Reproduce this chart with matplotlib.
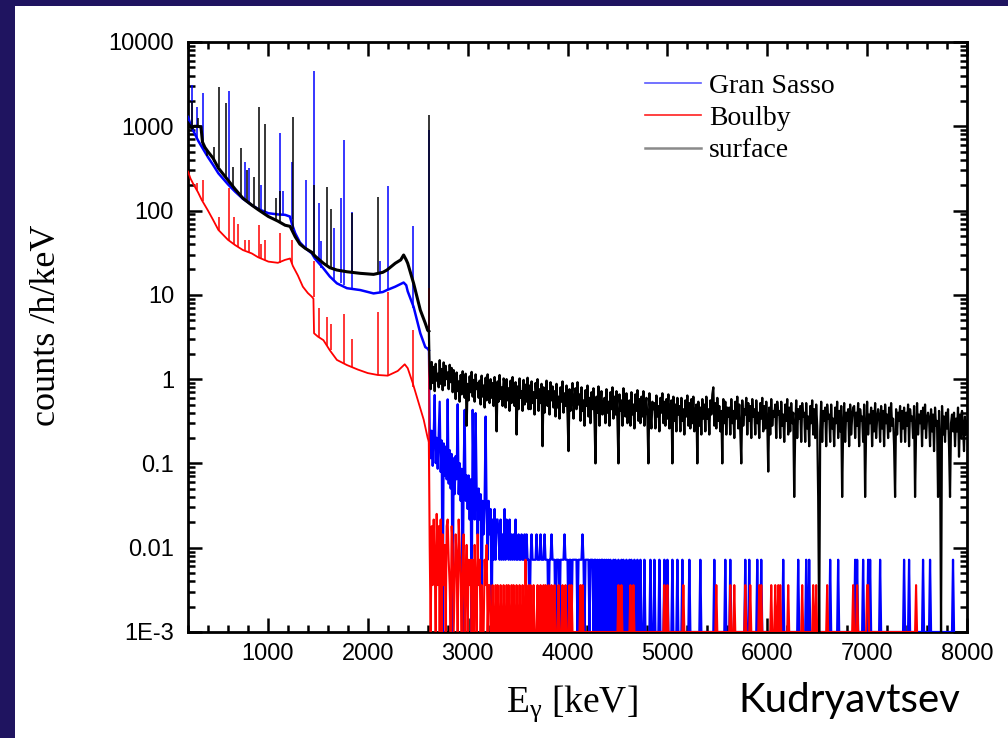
import numpy as np
import matplotlib
matplotlib.use('Agg')
import matplotlib.pyplot as plt
from matplotlib.lines import Line2D
from matplotlib.patches import Rectangle
from matplotlib.ticker import MultipleLocator, LogLocator, NullFormatter


# ---------------- low energy part (counts /h/keV) ----------------
# Gran Sasso continuum
gs_e = [200, 225, 250, 300, 337, 400, 450, 504, 600, 671,
        750, 839, 900, 1005, 1100, 1172, 1220, 1240, 1273, 1320,
        1373, 1440, 1470, 1556, 1620, 1691, 1791, 1925, 2058, 2150,
        2192, 2275, 2359, 2385, 2400, 2459, 2526, 2576, 2600, 2612]
gs_y = [1290, 1050, 900, 680, 573, 430, 350, 277, 205, 168,
        138, 116, 105, 93, 90, 89, 85, 70, 54, 42,
        36, 31, 27, 20.6, 16.5, 13.7, 12, 11.4, 10.4, 10.8,
        11.4, 12.5, 14, 13, 11, 7.2, 3.5, 2.4, 2.3, 2.2]

# surface continuum
sf_e = [200, 220, 240, 260, 300, 330, 345, 370, 400, 450,
        504, 600, 671, 750, 839, 900, 1005, 1100, 1172, 1222,
        1273, 1320, 1373, 1440, 1470, 1556, 1620, 1691, 1791, 1925,
        2058, 2150, 2192, 2275, 2330, 2359, 2385, 2400, 2459, 2526,
        2576, 2600, 2612]
sf_y = [1090, 1000, 950, 1000, 1000, 980, 650, 560, 500, 420,
        320, 230, 180, 140, 116, 103, 85, 75, 67, 65,
        49, 40, 35.7, 32, 29, 23.7, 21, 19.7, 18.8, 18,
        17.5, 18.5, 19.7, 23.7, 26, 29.7, 26, 23.7, 13.7, 6.6,
        4.6, 3.8, 3.7]

# Boulby continuum
bo_e = [200, 225, 250, 300, 337, 400, 450, 504, 600, 671,
        750, 839, 900, 1005, 1100, 1172, 1222, 1250, 1300, 1350,
        1400, 1440, 1456, 1462, 1500, 1556, 1620, 1691, 1791, 1900,
        2000, 2100, 2200, 2300, 2370, 2400, 2450, 2500, 2560, 2600,
        2612]
bo_y = [290, 240, 210, 165, 134, 100, 78, 59, 45, 39,
        34, 31, 28, 24.8, 24, 26, 27, 22, 17, 12.5,
        10.5, 9.5, 9, 3.5, 3.2, 2.9, 2.2, 1.69, 1.47, 1.3,
        1.18, 1.12, 1.1, 1.25, 1.5, 1.35, 0.9, 0.57, 0.33, 0.2,
        0.18]

# gamma lines: energy, continuum under the line, top of the line
gs_pk_e = [238, 295, 352, 609, 768, 806, 934, 1120, 1155, 1238, 1378, 1460,
           1509, 1530, 1661, 1730, 1764, 1847, 2118, 2204, 2448, 2614]
gs_pk_lo = [950, 720, 560, 200, 135, 125, 100, 89, 89, 80, 36, 30,
            24, 21, 15, 14, 13, 12, 10.5, 11.5, 7, 2.3]
gs_pk_hi = [3100, 1700, 2500, 2600, 380, 320, 200, 830, 170, 380, 230, 4500,
            122, 43, 62, 140, 690, 97, 25, 197, 65, 900]

sf_pk_e = [238, 300, 388, 463, 511, 583, 655, 727, 795, 860, 911, 969,
           1078, 1120, 1250, 1460, 1588, 1630, 1847, 2104, 2614]
sf_pk_lo = [1000, 1000, 520, 380, 330, 240, 190, 150, 130, 115, 105, 95,
            80, 75, 60, 30, 22, 21, 18, 17.5, 3.7]
sf_pk_hi = [2000, 1250, 450, 570, 2900, 1900, 330, 550, 300, 250, 1700, 1060,
            140, 170, 1300, 200, 193, 104, 94, 146, 1350]

bo_pk_e = [295, 352, 511, 609, 665, 700, 768, 806, 911, 934, 969, 1120,
           1238, 1460, 1509, 1588, 1630, 1764, 1847, 2104, 2204, 2448, 2614]
bo_pk_lo = [175, 130, 59, 45, 40, 37, 34, 32, 28, 27, 26, 24,
            23, 9.5, 3.2, 2.5, 2.2, 1.5, 1.4, 1.12, 1.1, 0.8, 0.18]
bo_pk_hi = [210, 230, 85, 184, 85, 70, 45, 45, 67, 40, 45, 54,
            45, 25, 7, 5.5, 4.5, 6.0, 3.0, 6.3, 10.9, 3.8, 12]

# ---------------- above the 2614 keV line ----------------
tail_start = 2620
ch = 10             # keV per channel
gs_unit = 0.0072    # one count in a channel, counts /h/keV
bo_unit = 0.0036
sf_unit = 0.02      # surface channels are stored in steps of 0.02

# Gran Sasso, counts per channel from 2620 to 3290 keV
gs_tail_head = [38, 16, 34, 13, 30, 90, 14, 28,
                12, 30, 75, 11, 26, 0, 24, 10, 22, 9,
                80, 8, 20, 7, 18, 0, 16, 6, 17, 9,
                70, 6, 14, 5, 12, 0, 11, 60, 5, 10,
                4, 10, 3, 9, 0, 60, 8, 3, 55, 7,
                2, 7, 3, 6, 0, 5, 2, 5, 50, 4,
                1, 5, 2, 4, 0, 3, 1, 4, 1, 3]
# 3300 - 4790 keV, one digit per channel
gs_tail_mid = ["3213121413", "2131212131", "1211211212", "1101211112",
               "1112111211", "1011211101", "1101111211", "1011011111",
               "0111121011", "1101110110", "1010110101", "0101001010",
               "0100101001", "0010100100", "1001000100"]
# single counts between 4800 keV and the end of the Gran Sasso data
gs_far_hits = [4830, 4870, 4915, 4966, 5000, 5050, 5100, 5150, 5216, 5334,
               5467, 5584, 5628, 5778, 5818, 5902, 5935, 6163, 6309, 6387,
               6420, 6627, 6714, 6878, 6895, 6955, 7011, 7031, 7128, 7372,
               7416, 7563, 7633, 7860]
gs_far_start, gs_end = 4800, 7870

# Boulby, 2620 - 4190 keV, one digit per channel
bo_tail_near = ["3051620715", "0604130562", "1053014206", "3102401302",
                "1202031041", "2010021301", "1001001010", "0100100101",
                "0010100100", "1001002001", "0100100010", "0100101001",
                "0010010001", "0001001000", "1010000000", "01010000"]
bo_far_hits = [4514, 4538, 4631, 4665, 4966, 5000, 5160, 5494, 5627, 5667,
               5785, 5828, 5918, 5935, 6042, 6085, 6108, 6128, 6208, 6353,
               6463, 6486, 6603, 6864, 6904, 6998, 7011, 7489]
bo_far_start, bo_end = 4200, 7500

# surface, 2620 - 8000 keV, 25 channels per row
sf_tail_rows = [
    "62 38 80 45 70 36 76 48 58 40 84 44 66 37 79 42 72 50 60 38 74 46 68 35 64",
    "52 29 60 36 47 27 56 33 62 40 30 58 14 44 28 54 35 61 31 49 27 57 38 45 30",
    "48 25 55 31 42 23 52 28 57 35 26 50 30 45 24 53 33 12 47 27 56 29 40 24 51",
    "44 23 50 28 39 21 48 26 53 32 24 46 11 41 22 51 30 36 21 49 25 43 27 52 22",
    "42 22 47 26 35 19 45 30 50 21 38 26 44 8 40 20 33 48 24 36 19 46 28 41 23",
    "36 18 44 23 31 17 40 27 47 20 34 24 42 19 7 38 21 30 45 17 28 39 22 46 25",
    "33 16 40 21 28 14 37 24 42 18 30 15 35 22 39 17 5 31 20 41 14 27 36 19 25",
    "30 15 38 20 27 14 35 22 40 17 31 19 36 16 5 33 21 28 14 39 24 18 34 15 26",
    "28 14 35 19 25 13 33 21 37 16 29 15 31 18 36 14 24 30 17 5 34 20 13 27 22",
    "26 13 32 18 24 12 30 20 34 15 27 14 29 17 33 13 22 28 5 31 16 25 12 30 19",
    "24 12 30 16 22 11 28 18 32 14 26 13 29 15 31 12 20 25 5 27 14 23 11 29 17",
    "25 12 31 17 22 11 28 19 33 40 14 26 13 30 16 24 12 21 5 29 15 27 11 23 18",
    "23 11 29 15 21 10 27 17 31 13 25 12 5 28 14 22 19 30 11 26 16 24 10 29 18",
    "22 11 28 15 20 10 26 17 30 12 24 13 27 16 4 23 11 29 14 21 18 25 10 27 19",
    "21 10 27 14 19 9 25 16 29 11 23 12 26 15 20 2 13 28 10 22 17 24 9 26 18",
    "20 9 26 13 18 8 24 15 28 11 22 10 25 14 2 0 12 27 9 21 16 23 8 25 17",
    "19 9 25 13 17 8 23 15 27 10 21 12 24 2 14 26 9 20 16 22 8 25 11 18 23",
    "24 10 20 14 26 8 22 16 18 9 25 2 13 27 11 19 15 23 8 21 12 26 10 17 22",
    "18 9 24 13 21 8 25 15 19 10 23 12 26 14 17 8 2 22 11 20 16 24 9 21 13",
    "23 9 20 14 25 8 22 16 18 10 24 2 12 26 11 19 15 21 8 23 13 25 10 17 20",
    "17 8 22 12 19 7 23 14 16 2 21 10 0 24 11 18 9 20 13 22 8 2 15 19 12",
    "20 8 17 12 23 6 19 10 21 14 7 18 11 16",
]

series_names = ["Gran Sasso", "Boulby", "surface"]
xtick_vals = [1000, 2000, 3000, 4000, 5000, 6000, 7000, 8000]
ytick_vals = [1e-3, 1e-2, 1e-1, 1, 10, 100, 1000, 10000]
ytick_labels = ["1E-3", "0.01", "0.1", "1", "10", "100", "1000", "10000"]

YMIN, YMAX = 1e-3, 1e4


def hits_to_counts(hits, start, end):
    counts = np.zeros(int(round((end - start) / ch)) + 1)
    for e in hits:
        counts[int(round((e - start) / ch))] += 1
    return counts


def digits(rows):
    return [int(c) for c in "".join(rows)]


def floor(v):
    # empty channels sit on the bottom of the log axis
    return np.clip(np.asarray(v, float), YMIN, None)


# assemble the channel arrays above 2614 keV
gs_counts = np.concatenate([gs_tail_head, digits(gs_tail_mid),
                            hits_to_counts(gs_far_hits, gs_far_start, gs_end)])
gs_tail_e = tail_start + ch * np.arange(len(gs_counts))
gs_tail_y = gs_counts * gs_unit

bo_counts = np.concatenate([digits(bo_tail_near),
                            hits_to_counts(bo_far_hits, bo_far_start, bo_end)])
bo_tail_e = tail_start + ch * np.arange(len(bo_counts))
bo_tail_y = bo_counts * bo_unit

sf_codes = np.array(" ".join(sf_tail_rows).split(), dtype=float)
sf_tail_e = tail_start + ch * np.arange(len(sf_codes))
sf_tail_y = sf_codes * sf_unit


fig = plt.figure(figsize=(10.08, 7.38), dpi=100, facecolor='#1f1460')
fig.patches.append(Rectangle((15 / 1008, 0), 1, 1 - 6 / 738, transform=fig.transFigure,
                             facecolor='white', edgecolor='none', zorder=-10))
ax = fig.add_axes([188 / 1008, 1 - 632 / 738, 779 / 1008, 590 / 738])

colors = {"Gran Sasso": '#0000ff', "Boulby": '#ff0000', "surface": '#000000'}
data = {
    "Gran Sasso": (gs_e, gs_y, gs_pk_e, gs_pk_lo, gs_pk_hi, gs_tail_e, gs_tail_y, 1.8, 1.6),
    "Boulby": (bo_e, bo_y, bo_pk_e, bo_pk_lo, bo_pk_hi, bo_tail_e, bo_tail_y, 1.3, 1.5),
    "surface": (sf_e, sf_y, sf_pk_e, sf_pk_lo, sf_pk_hi, sf_tail_e, sf_tail_y, 2.2, 1.6),
}

for name in series_names:
    e, y, pe, plo, phi, te, ty, lw, tlw = data[name]
    c = colors[name]
    ax.plot(e, y, color=c, lw=lw, zorder=3)
    ax.vlines(pe, plo, phi, color=c, lw=1.1, zorder=3)
    # tail starts from the last continuum point
    ax.plot(np.concatenate([[e[-1]], te]), floor(np.concatenate([[y[-1]], ty])),
            color=c, lw=tlw, zorder=3)

ax.set_yscale('log')
ax.set_xlim(200, 8000)
ax.set_ylim(YMIN, YMAX)

ax.set_xticks(xtick_vals)
ax.set_xticklabels([str(v) for v in xtick_vals])
ax.xaxis.set_minor_locator(MultipleLocator(200))
ax.set_yticks(ytick_vals)
ax.set_yticklabels(ytick_labels)
ax.yaxis.set_minor_locator(LogLocator(base=10, subs=np.arange(2, 10)))
ax.yaxis.set_minor_formatter(NullFormatter())

ax.tick_params(which='both', direction='in', top=True, right=True, width=1.8)
ax.tick_params(which='major', length=10)
ax.tick_params(which='minor', length=5)
ax.tick_params(axis='x', pad=8)
ax.tick_params(axis='y', pad=10)
for lab in ax.get_xticklabels() + ax.get_yticklabels():
    lab.set_fontfamily('Liberation Sans')
    lab.set_fontsize(17)
for sp in ax.spines.values():
    sp.set_linewidth(2)

handles = [Line2D([], [], color='#5a5aff', lw=1.2),
           Line2D([], [], color='#ff2020', lw=1.2),
           Line2D([], [], color='#8a8a8a', lw=1.8)]
ax.legend(handles, series_names, loc='upper left', bbox_to_anchor=(0.587, 0.947),
          frameon=False, borderpad=0, borderaxespad=0, handlelength=2.0,
          handletextpad=0.3, labelspacing=0.25,
          prop={'family': 'Liberation Serif', 'size': 20})

plt.rcParams['mathtext.fontset'] = 'custom'
plt.rcParams['mathtext.rm'] = 'Liberation Serif'
plt.rcParams['mathtext.it'] = 'Liberation Serif:italic'
fig.text(47 / 1008, 1 - 325 / 738, 'counts /h/keV', rotation=90, ha='center', va='center',
         family='Liberation Serif', fontsize=26)
fig.text(572 / 1008, 1 - 712 / 738, r'E$_\mathregular{\gamma}$ [keV]', ha='center', va='baseline',
         family='Liberation Serif', fontsize=27)
fig.text(849 / 1008, 1 - 712 / 738, 'Kudryavtsev', ha='center', va='baseline',
         family='Lato', fontsize=29)

fig.savefig('out.png', dpi=100, facecolor=fig.get_facecolor())
